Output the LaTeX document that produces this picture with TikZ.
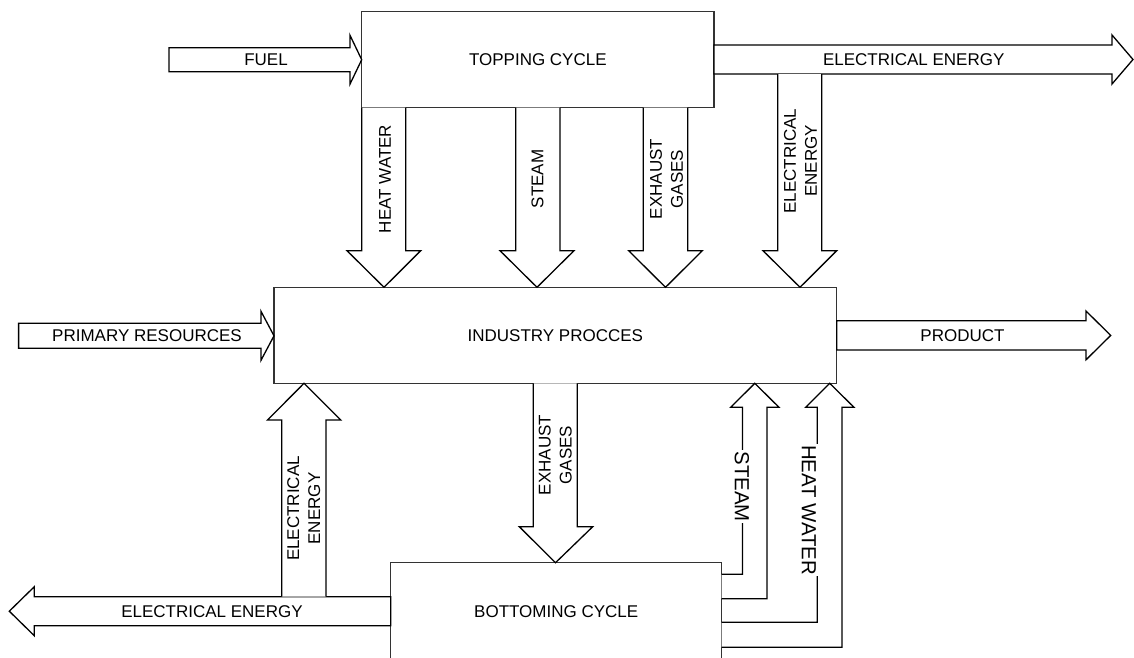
\documentclass[tikz,border=0pt]{standalone}
\usepackage{fontspec}
\setmainfont{Liberation Sans}
\begin{document}
\begin{tikzpicture}[x=1pt,y=-1pt,
  boxstyle/.style={draw=black!80,line width=1.1pt,inner sep=0pt,font=\fontsize{17}{21}\selectfont},
  blockarrow/.style={draw=black,line width=1.3pt,line join=miter,fill=white},
  lbl/.style={font=\fontsize{17}{21}\selectfont,inner sep=1pt,align=center},
  biglbl/.style={font=\fontsize{20.4}{24}\selectfont,inner sep=1.5pt,fill=white}]
\useasboundingbox (0,0) rectangle (1134,657);
\clip (0,0) rectangle (1134,657);

% boxes
\node[boxstyle,minimum width=352.3pt,minimum height=96.2pt] (top) at (537.85,59.6) {TOPPING CYCLE};
\node[boxstyle,minimum width=562.7pt,minimum height=96pt] (ind) at (555.35,335.3) {INDUSTRY PROCCES};
\node[boxstyle,minimum width=331pt,minimum height=98pt] (bot) at (556.2,611.7) {BOTTOMING CYCLE};

% horizontal arrows
\draw[blockarrow] (169,47.7) -- (350,47.7) -- (350,35.3) -- (361.7,59.7) -- (350,84.1) -- (350,71.7) -- (169,71.7) -- cycle;
\draw[blockarrow] (714,45) -- (1112,45) -- (1112,35) -- (1133,59.5) -- (1112,84) -- (1112,74) -- (714,74) -- cycle;
\draw[blockarrow] (18.6,323.3) -- (261,323.3) -- (261,311.3) -- (274,335.8) -- (261,360.3) -- (261,348.3) -- (18.6,348.3) -- cycle;
\draw[blockarrow] (836.7,320.8) -- (1086,320.8) -- (1086,311) -- (1110.7,335.4) -- (1086,359.8) -- (1086,350) -- (836.7,350) -- cycle;
\draw[blockarrow] (390.7,596.7) -- (34.3,596.7) -- (34.3,586.7) -- (9.3,611.2) -- (34.3,635.7) -- (34.3,625.7) -- (390.7,625.7) -- cycle;

% down arrows from topping cycle
\draw[blockarrow] (361.7,107.7) -- (361.7,250.7) -- (347,250.7) -- (384,287.3) -- (420.7,250.7) -- (405.7,250.7) -- (405.7,107.7);
\draw[blockarrow] (515.7,107.7) -- (515.7,250.7) -- (500,250.7) -- (537,287.3) -- (574,250.7) -- (560,250.7) -- (560,107.7);
\draw[blockarrow] (643.3,107.7) -- (643.3,250.7) -- (628.7,250.7) -- (665.5,287.3) -- (702.3,250.7) -- (687.7,250.7) -- (687.7,107.7);
\draw[blockarrow] (777.7,74) -- (777.7,250.7) -- (763,250.7) -- (800,287.3) -- (836.7,250.7) -- (821.7,250.7) -- (821.7,74);

% exhaust gases down to bottoming
\draw[blockarrow] (533.3,383.3) -- (533.3,526.7) -- (519.3,526.7) -- (555.5,562.7) -- (592.7,526.7) -- (577.3,526.7) -- (577.3,383.3);
% electrical energy up to industry
\draw[blockarrow] (281.7,596.7) -- (281.7,420) -- (267.5,420) -- (304,383.3) -- (340.7,420) -- (326,420) -- (326,596.7);

% bent arrows from bottoming to industry
\draw[blockarrow] (721.7,574.3) -- (742.5,574.3) -- (742.5,407.3) -- (730.7,407.3) -- (754.8,383.3) -- (779,407.3) -- (767,407.3) -- (767,598.7) -- (721.7,598.7);
\draw[blockarrow] (721.7,622.3) -- (817.3,622.3) -- (817.3,407.3) -- (805.7,407.3) -- (829.7,383.3) -- (854,407.3) -- (842,407.3) -- (842,647.3) -- (721.7,647.3);

% labels
\node[lbl] (lfuel) at (266,60) {FUEL};
\node[lbl] (lelt) at (913.7,59.5) {ELECTRICAL ENERGY};
\node[lbl] (lprim) at (147,335.5) {PRIMARY RESOURCES};
\node[lbl] (lprod) at (962.5,335.5) {PRODUCT};
\node[lbl] (lelb) at (212,611.2) {ELECTRICAL ENERGY};

\node[lbl,rotate=90] (lhw1) at (385,179) {HEAT WATER};
\node[lbl,rotate=90] (lst1) at (537.5,179) {STEAM};
\node[lbl,rotate=90] (lex1) at (666.5,179) {EXHAUST\\GASES};
\node[lbl,rotate=90] (led1) at (800.5,161) {ELECTRICAL\\ENERGY};
\node[lbl,rotate=90] (lex2) at (555.3,455) {EXHAUST\\GASES};
\node[lbl,rotate=90] (leu) at (303.8,508.5) {ELECTRICAL\\ENERGY};

\node[biglbl,rotate=-90] (lst2) at (742,486.7) {STEAM};
\node[biglbl,rotate=-90] (lhw2) at (809,510) {HEAT WATER};
\end{tikzpicture}
\end{document}
